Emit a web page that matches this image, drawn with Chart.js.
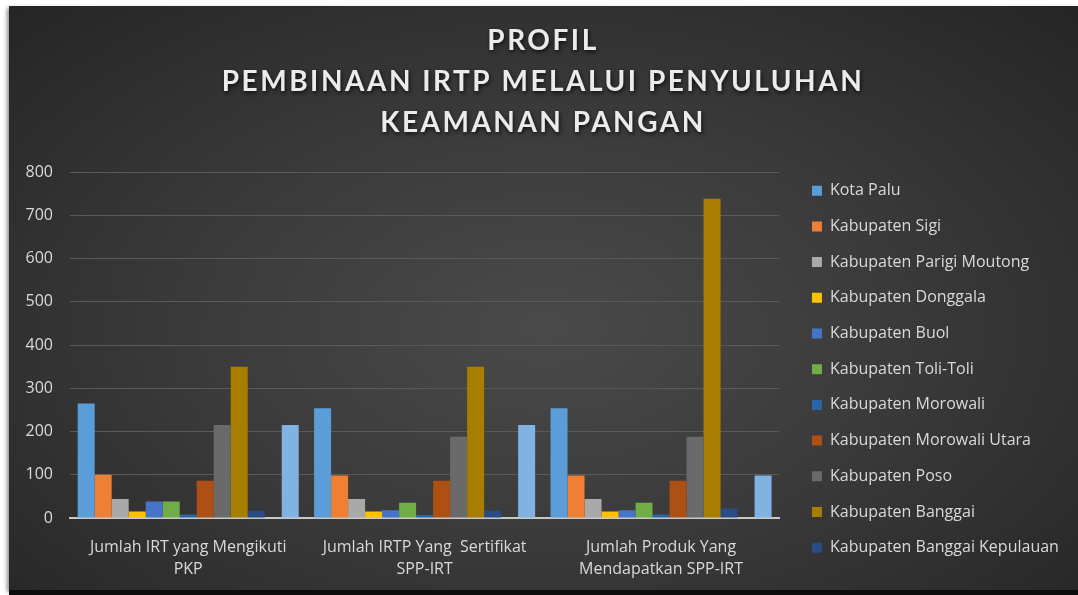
<!DOCTYPE html>
<html>
<head>
<meta charset="utf-8">
<script src="https://cdn.jsdelivr.net/npm/chart.js@4"></script>
<style>
  html, body { margin: 0; padding: 0; background: #fff; }
  body { width: 1078px; height: 595px; position: relative; overflow: hidden; }
  .panel {
    position: absolute; left: 9px; top: 6px; width: 1069px; height: 584px;
    background: radial-gradient(ellipse at 50% 55%, #4a4a4a 0%, #3b3b3b 45%, #252525 100%);
    box-shadow: -2px 2px 4px rgba(0, 0, 0, 0.45);
  }
  .strip { position: absolute; left: 9px; top: 590px; width: 1069px; height: 5px; background: #0d0d0d; }
  canvas { position: absolute; left: 0; top: 0; }
</style>
</head>
<body>
<div class="panel"></div>
<div class="strip"></div>
<canvas id="grafik" width="1078" height="595"></canvas>
<script>
// kategori sumbu X
const kategori = [
    ["Jumlah IRT yang Mengikuti", "PKP"],
    ["Jumlah IRTP Yang  Sertifikat", "SPP-IRT"],
    ["Jumlah Produk Yang", "Mendapatkan SPP-IRT"],
];

// nilai tiap kabupaten / kota
const kotaPalu = [265, 254, 254];
const kabSigi = [100, 98, 98];
const kabParigiMoutong = [44, 44, 44];
const kabDonggala = [15, 15, 15];
const kabBuol = [38, 18, 18];
const kabToliToli = [38, 35, 35];
const kabMorowali = [8, 7, 8];
const kabMorowaliUtara = [86, 86, 86];
const kabPoso = [215, 188, 188];
const kabBanggai = [350, 350, 738];
const kabBanggaiKepulauan = [17, 17, 22];
const kabBanggaiLaut = [0, 0, 0];
const kabTojoUnaUna = [215, 215, 98];

const namaWilayah = [
    "Kota Palu", "Kabupaten Sigi", "Kabupaten Parigi Moutong", "Kabupaten Donggala",
    "Kabupaten Buol", "Kabupaten Toli-Toli", "Kabupaten Morowali", "Kabupaten Morowali Utara",
    "Kabupaten Poso", "Kabupaten Banggai", "Kabupaten Banggai Kepulauan",
    "Kabupaten Banggai Laut", "Kabupaten Tojo Una-Una",
];
const nilaiWilayah = [
    kotaPalu, kabSigi, kabParigiMoutong, kabDonggala, kabBuol, kabToliToli, kabMorowali,
    kabMorowaliUtara, kabPoso, kabBanggai, kabBanggaiKepulauan, kabBanggaiLaut, kabTojoUnaUna,
];
const warna = [
    "#5b9dd9", "#ef7f34", "#a9a9a9", "#ffc000", "#4674c8", "#70ad47", "#2a66a3",
    "#ae4f14", "#6a6a6a", "#a87e00", "#2a4c86", "#43682b", "#80b3e2",
];

const judul = ["PROFIL", "PEMBINAAN IRTP MELALUI PENYULUHAN", "KEAMANAN PANGAN"];

const teks = "#d9d9d9";
const hurufLabel = { family: "'Open Sans'", size: 16 };

// judul digambar manual supaya bisa pakai spasi huruf
const judulPlugin = {
    id: "judul",
    afterDraw(chart) {
        const ctx = chart.ctx;
        ctx.save();
        ctx.font = "bold 28px Lato";
        ctx.letterSpacing = "2.5px";
        ctx.fillStyle = "#ebebeb";
        ctx.textAlign = "center";
        ctx.textBaseline = "middle";
        ctx.shadowColor = "rgba(0,0,0,0.75)";
        ctx.shadowBlur = 4;
        ctx.shadowOffsetX = 1;
        ctx.shadowOffsetY = 2;
        judul.forEach((baris, i) => ctx.fillText(baris, 543, 41 + i * 41));
        ctx.restore();
    },
};

// geser legenda sedikit ke kanan dan lebarkan sampai tepi kanvas
const geserLegenda = {
    id: "geserLegenda",
    afterLayout(chart) {
        const lg = chart.legend;
        lg.left += 13;
        lg.right = chart.width;
        lg.width = lg.right - lg.left;
    },
};

const grafik = document.querySelector("#grafik");

new Chart(grafik, {
    type: "bar",
    data: {
        labels: kategori,
        datasets: namaWilayah.map((nama, i) => ({
            label: nama,
            data: nilaiWilayah[i],
            backgroundColor: warna[i],
            barPercentage: 1,
            categoryPercentage: 0.935,
        })),
    },
    options: {
        responsive: false,
        animation: false,
        layout: { padding: { top: 163, left: 0, right: 39, bottom: 5 } },
        plugins: {
            tooltip: { enabled: false },
            // judul kosong hanya sebagai jarak di atas area plot
            title: {
                display: true,
                text: "",
                fullSize: false,
                font: { size: 1, lineHeight: 1 },
                padding: { top: 8, bottom: 0 },
            },
            legend: {
                position: "right",
                align: "start",
                labels: {
                    color: teks,
                    font: hurufLabel,
                    boxWidth: 10,
                    boxHeight: 10,
                    padding: 19.7,
                    filter: (item) => item.datasetIndex < 11,
                },
            },
        },
        scales: {
            x: {
                grid: { display: false, drawTicks: false },
                border: { color: "#c8c8c8", width: 2 },
                ticks: {
                    color: teks,
                    font: { ...hurufLabel, lineHeight: 1.4 },
                    padding: 18,
                    maxRotation: 0,
                },
                afterFit(scale) { scale.height = 72; },
            },
            y: {
                min: 0,
                max: 800,
                ticks: {
                    stepSize: 100,
                    color: teks,
                    font: hurufLabel,
                    padding: 17,
                },
                grid: { color: "#5a5a5a", lineWidth: 1, drawTicks: false },
                border: { display: false },
                afterFit(scale) { scale.width = 70; },
            },
        },
    },
    plugins: [judulPlugin, geserLegenda],
});
</script>
</body>
</html>
